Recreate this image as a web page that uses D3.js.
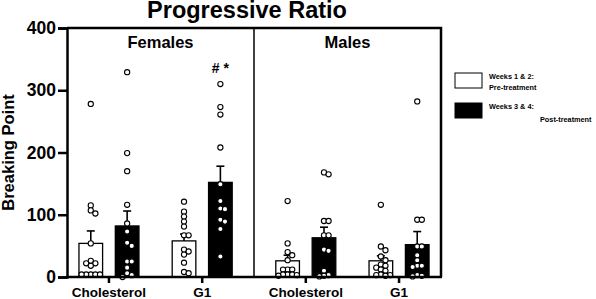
<!DOCTYPE html>
<html>
<head>
<meta charset="utf-8">
<script src="https://cdn.jsdelivr.net/npm/d3@7"></script>
<style>
  body { margin: 0; background: #fff; }
  svg text { font-family: "Liberation Sans", Arial, sans-serif; font-weight: bold; fill: #000; }
</style>
</head>
<body>
<svg id="chart" width="596" height="299"></svg>
<script>
// values
var sexes = ["Females", "Males"];
var categories = ["Cholesterol", "G1"];
var phases = ["pre", "post"];
var legendLabels = [["Weeks 1 & 2:", "Pre-treatment"], ["Weeks 3 & 4:", "Post-treatment"]];
var yTicks = [0, 100, 200, 300, 400];

// order: Cholesterol pre, Cholesterol post, G1 pre, G1 post
var femaleMeans = [54, 82, 58, 152];
var femaleSem = [20, 24, 11, 26];
var maleMeans = [26, 63, 26, 52];
var maleSem = [9, 17, 8, 21];

var femaleCholPre = [278, 115, 107, 102, 54, 26, 22, 22, 18, 4, 4, 4, 4, 4];
var femaleCholPost = [329, 199, 170, 116, 86, 73, 55, 50, 25, 25, 15, 6, 3, 0];
var femaleG1Pre = [121, 105, 97, 89, 81, 67, 67, 44, 41, 36, 23, 8, 6];
var femaleG1Post = [310, 273, 261, 208, 149, 122, 110, 109, 92, 89, 77, 33];
var maleCholPre = [122, 54, 40, 35, 27, 12, 12, 12, 4, 4, 4, 3, 2];
var maleCholPost = [168, 165, 90, 90, 67, 67, 44, 42, 10, 3, 2, 1];
var maleG1Pre = [116, 49, 43, 33, 27, 20, 18, 15, 12, 10, 4, 3, 3, 2];
var maleG1Post = [282, 92, 92, 49, 49, 35, 27, 18, 18, 16, 3, 2, 1];

var femalePoints = [femaleCholPre, femaleCholPost, femaleG1Pre, femaleG1Post];
var malePoints = [maleCholPre, maleCholPost, maleG1Pre, maleG1Post];

var groups = [];
sexes.forEach(function(sex, si) {
    var means = si == 0 ? femaleMeans : maleMeans;
    var sems = si == 0 ? femaleSem : maleSem;
    var pts = si == 0 ? femalePoints : malePoints;
    categories.forEach(function(cat, ci) {
        phases.forEach(function(ph, pi) {
            var k = ci * 2 + pi;
            groups.push({sex: sex, cat: cat, phase: ph, mean: means[k], sem: sems[k], points: pts[k]});
        });
    });
});

var svg = d3.select("#chart");
var plotLeft = 67, plotRight = 441, plotTop = 28, plotBottom = 277;

var y = d3.scaleLinear().domain([0, 400]).range([plotBottom, plotTop]);

var xSex = d3.scaleBand().domain(sexes).range([plotLeft, plotRight]).paddingInner(0.1).paddingOuter(0);
var xCat = d3.scalePoint().domain(categories).range([0, xSex.bandwidth()]).padding(0.45);
var xPhase = d3.scaleBand().domain(phases).range([-30, 30]).paddingInner(0.35);

function catCenter(d) { return xSex(d.sex) + xCat(d.cat); }
function barX(d) { return catCenter(d) + xPhase(d.phase); }
function barMid(d) { return barX(d) + xPhase.bandwidth() / 2; }

// title
svg.append("text")
    .attr("x", 247).attr("y", 18)
    .attr("text-anchor", "middle")
    .style("font-size", "23.5px")
    .text("Progressive Ratio");

// y axis title
svg.append("text")
    .attr("transform", "translate(14," + ((plotTop + plotBottom) / 2) + ") rotate(-90)")
    .attr("text-anchor", "middle")
    .style("font-size", "16.5px")
    .text("Breaking Point");

// frame
var mid = (plotLeft + plotRight) / 2;
svg.append("line").attr("x1", mid).attr("x2", mid).attr("y1", plotTop).attr("y2", plotBottom)
    .attr("stroke", "#000").attr("stroke-width", 1.5);
svg.append("path")
    .attr("d", "M" + plotLeft + "," + plotTop + "H" + plotRight + "V" + plotBottom)
    .attr("fill", "none").attr("stroke", "#000").attr("stroke-width", 2.5);

// panel labels
svg.selectAll(".panel").data(sexes).enter().append("text")
    .attr("x", function(d) { return d == "Females" ? (plotLeft + mid) / 2 : (mid + plotRight) / 2; })
    .attr("y", 48)
    .attr("text-anchor", "middle")
    .style("font-size", "16.5px")
    .text(function(d) { return d; });

// bars
svg.selectAll(".bar").data(groups).enter().append("rect")
    .attr("x", barX)
    .attr("y", function(d) { return y(d.mean); })
    .attr("width", xPhase.bandwidth())
    .attr("height", function(d) { return plotBottom - y(d.mean); })
    .attr("fill", function(d) { return d.phase == "pre" ? "#fff" : "#000"; })
    .attr("stroke", "#000")
    .attr("stroke-width", 1.3);

// error bars (upper only)
var err = svg.selectAll(".err").data(groups).enter().append("g");
err.append("line")
    .attr("x1", barMid).attr("x2", barMid)
    .attr("y1", function(d) { return y(d.mean); })
    .attr("y2", function(d) { return y(d.mean + d.sem); })
    .attr("stroke", "#000").attr("stroke-width", 1.6);
err.append("line")
    .attr("x1", function(d) { return barMid(d) - 4; })
    .attr("x2", function(d) { return barMid(d) + 4; })
    .attr("y1", function(d) { return y(d.mean + d.sem); })
    .attr("y2", function(d) { return y(d.mean + d.sem); })
    .attr("stroke", "#000").attr("stroke-width", 1.6);

// scatter points, spread sideways so they don't sit on top of each other
var r = 2.6, minD = 4.6;
function swarm(vals) {
    var placed = [];
    vals.forEach(function(v) {
        var py = y(v);
        for (var k = 0; k < 20; k++) {
            var cands = k == 0 ? [0] : [k * minD, -k * minD];
            var ok = null;
            for (var c = 0; c < cands.length; c++) {
                var free = placed.every(function(p) {
                    return Math.hypot(p.dx - cands[c], p.y - py) >= minD;
                });
                if (free) { ok = cands[c]; break; }
            }
            if (ok !== null) { placed.push({dx: ok, y: py}); break; }
        }
    });
    return placed;
}

groups.forEach(function(g) {
    var cx = barMid(g);
    svg.append("g").selectAll("circle").data(swarm(g.points)).enter().append("circle")
        .attr("cx", function(p) { return cx + p.dx; })
        .attr("cy", function(p) { return p.y; })
        .attr("r", r)
        .attr("fill", "#fff")
        .attr("stroke", "#000")
        .attr("stroke-width", 1.1);
});

// significance marks
var fg1 = groups.filter(function(g) { return g.sex == "Females" && g.cat == "G1" && g.phase == "post"; })[0];
svg.append("text")
    .attr("x", barMid(fg1)).attr("y", 73)
    .attr("text-anchor", "middle")
    .style("font-size", "14px")
    .text("# *");

// y axis
var yAxis = svg.append("g").attr("transform", "translate(" + plotLeft + ",0)")
    .call(d3.axisLeft(y).tickValues(yTicks).tickSize(9).tickPadding(2));
yAxis.select(".domain").attr("stroke-width", 2.5);
yAxis.selectAll(".tick line").attr("stroke-width", 2.5);
yAxis.selectAll(".tick text")
    .style("font-size", "17.5px")
    .style("font-family", "'Liberation Sans', Arial, sans-serif");

// x axis
var cats = groups.filter(function(g) { return g.phase == "pre"; });
svg.append("line").attr("x1", plotLeft - 1).attr("x2", plotRight + 1).attr("y1", plotBottom).attr("y2", plotBottom)
    .attr("stroke", "#000").attr("stroke-width", 2.5);
svg.selectAll(".xtick").data(cats).enter().append("line")
    .attr("x1", catCenter).attr("x2", catCenter)
    .attr("y1", plotBottom).attr("y2", plotBottom + 6)
    .attr("stroke", "#000").attr("stroke-width", 2.5);
svg.selectAll(".xlab").data(cats).enter().append("text")
    .attr("x", catCenter).attr("y", 297)
    .attr("text-anchor", "middle")
    .style("font-size", "13.5px")
    .text(function(d) { return d.cat; });

// legend
var legend = svg.selectAll(".legend").data(legendLabels).enter().append("g")
    .attr("transform", function(d, i) { return "translate(455," + (73 + i * 30) + ")"; });
legend.append("rect")
    .attr("width", 27).attr("height", 15)
    .attr("fill", function(d, i) { return i == 0 ? "#fff" : "#000"; })
    .attr("stroke", "#000").attr("stroke-width", 1);
legend.append("text")
    .attr("x", 34).attr("y", 6)
    .style("font-size", "7.3px")
    .text(function(d) { return d[0]; });
legend.append("text")
    .attr("x", function(d, i) { return i == 0 ? 34 : 85; })
    .attr("y", function(d, i) { return i == 0 ? 16.5 : 18.5; })
    .style("font-size", "7.3px")
    .text(function(d) { return d[1]; });
</script>
</body>
</html>
